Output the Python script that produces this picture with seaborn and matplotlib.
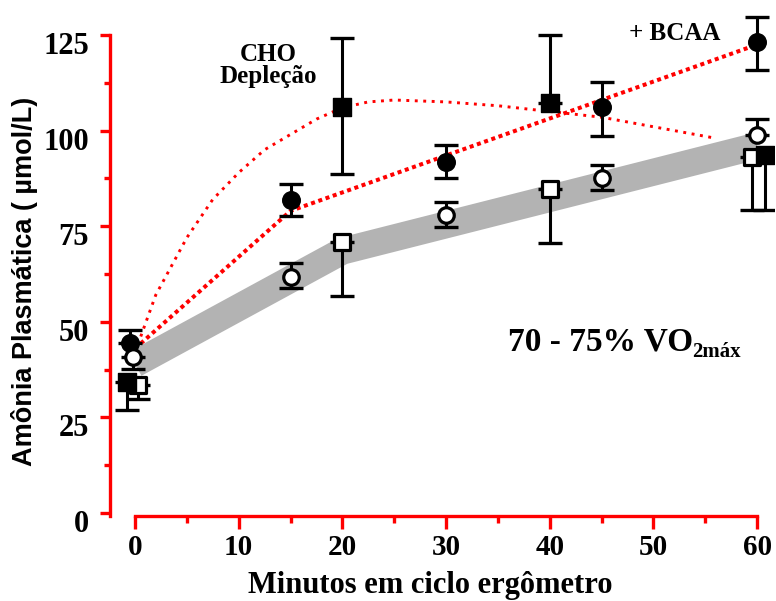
import numpy as np
import pandas as pd
import matplotlib
matplotlib.use("Agg")
import matplotlib.pyplot as plt
from matplotlib.ticker import MultipleLocator
from matplotlib.transforms import ScaledTranslation
import seaborn as sns

# ---- data -------------------------------------------------------------
# + BCAA (filled circles)
bcaa_x = [-0.5, 15, 30, 45, 60]
bcaa_y = [44.5, 81.9, 91.8, 106.2, 123.2]
bcaa_lo = [0.0, 4.2, 4.2, 7.6, 7.4]
bcaa_hi = [3.4, 4.1, 4.4, 6.5, 6.5]
bcaa_trend_x = [0, 15, 60]
bcaa_trend_y = [43, 79, 122.5]

# CHO depletion (filled squares)
cho_x = [-0.8, 20, 40, 60.8]
cho_y = [34.3, 106.2, 107.2, 93.6]
cho_lo = [7.4, 17.6, 0.0, 14.4]
cho_hi = [0.0, 18.0, 17.8, 0.0]
cho_curve_x = [0, 2, 5, 7.5, 10, 12.5, 15, 17.5, 20, 22.5, 25, 30, 35, 40, 45, 50, 56]
cho_curve_y = [42, 57, 72, 82, 89, 95, 99, 103, 106, 107.5, 108, 107.5, 106.5, 105, 103.5, 101, 98]

# control, open circles
ctl_c_x = [-0.2, 15, 30, 45, 60]
ctl_c_y = [40.8, 61.7, 77.9, 87.6, 98.8]
ctl_c_lo = [3.1, 2.9, 3.1, 3.1, 0.0]
ctl_c_hi = [0.0, 3.7, 3.5, 3.4, 4.2]

# control, open squares
ctl_s_x = [0.3, 20, 40, 59.5]
ctl_s_y = [33.5, 70.9, 84.7, 93.1]
ctl_s_lo = [3.7, 14.2, 14.1, 13.9]
ctl_s_hi = [0.0, 0.0, 0.0, 0.0]

# control trend (grey band)
band_x = [0, 20, 60]
band_y = [39, 68.5, 96]

x_ticks = [0, 10, 20, 30, 40, 50, 60]
y_ticks = [0, 25, 50, 75, 100, 125]

# ---- style ------------------------------------------------------------
sns.set_style("ticks")
plt.rcParams["font.family"] = ["Liberation Serif", "DejaVu Serif"]
plt.rcParams["font.weight"] = "bold"
plt.rcParams["text.color"] = "black"

RED = "#ff0000"
GREY = "#b3b3b3"

fig = plt.figure(figsize=(7.76, 6.01), dpi=100)
ax = fig.add_axes([110 / 776, 85 / 601, (774 - 110) / 776, (593 - 85) / 601])

# red dotted trend lines
sns.lineplot(x=cho_curve_x, y=cho_curve_y, ax=ax, color=RED, lw=2.1,
             linestyle=(0, (1, 1.9)), dash_capstyle="butt", zorder=1,
             sort=False, estimator=None)
sns.lineplot(x=bcaa_trend_x, y=bcaa_trend_y, ax=ax, color=RED, lw=2.9,
             linestyle=(0, (1, 0.9)), dash_capstyle="butt", zorder=1,
             sort=False, estimator=None)

# grey control band
sns.lineplot(x=band_x, y=band_y, ax=ax, color=GREY, lw=19.5,
             solid_capstyle="butt", solid_joinstyle="miter", zorder=2,
             sort=False, estimator=None)

# error bars
eb_kw = dict(fmt="none", ecolor="black", elinewidth=2.2, capsize=8.5,
             capthick=2.4, zorder=3)
ax.errorbar(bcaa_x, bcaa_y, yerr=[bcaa_lo, bcaa_hi], **eb_kw)
ax.errorbar(ctl_c_x, ctl_c_y, yerr=[ctl_c_lo, ctl_c_hi], **eb_kw)
ax.errorbar(ctl_s_x, ctl_s_y, yerr=[ctl_s_lo, ctl_s_hi], **eb_kw)
ax.errorbar(cho_x, cho_y, yerr=[cho_lo, cho_hi], **eb_kw)

# markers
sns.scatterplot(x=bcaa_x, y=bcaa_y, ax=ax, marker="o", s=160,
                color="black", edgecolor="black", zorder=4)
sns.scatterplot(x=ctl_c_x, y=ctl_c_y, ax=ax, marker="o", s=125,
                color="white", edgecolor="black", linewidth=2.3, zorder=5)
sns.scatterplot(x=ctl_s_x, y=ctl_s_y, ax=ax, marker="s", s=145,
                color="white", edgecolor="black", linewidth=2.3, zorder=5)
sns.scatterplot(x=cho_x, y=cho_y, ax=ax, marker="s", s=155,
                color="black", edgecolor="black", zorder=6)

# ---- axes -------------------------------------------------------------
ax.set_xlim(-2.41, 61.62)
ax.set_ylim(-0.78, 132.06)
ax.set_xticks(x_ticks)
ax.set_yticks(y_ticks)
ax.xaxis.set_minor_locator(MultipleLocator(5))
ax.yaxis.set_minor_locator(MultipleLocator(12.5))
ax.set_xticklabels([str(v) for v in x_ticks])
ax.set_yticklabels([str(v) for v in y_ticks])

for side in ("top", "right"):
    ax.spines[side].set_visible(False)
for side in ("left", "bottom"):
    ax.spines[side].set_color(RED)
    ax.spines[side].set_linewidth(2.4)
ax.spines["bottom"].set_bounds(0, 60)
ax.spines["left"].set_bounds(-0.78, 125)

ax.tick_params(axis="both", which="both", color=RED, labelcolor="black",
               direction="out", width=2.4)
ax.tick_params(axis="y", which="major", length=7, pad=8, labelsize=22)
ax.tick_params(axis="y", which="minor", length=4.5)
ax.tick_params(axis="x", which="major", length=9, pad=4, labelsize=21)
ax.tick_params(axis="x", which="minor", length=5)
shift = ScaledTranslation(0, -8 / 100, fig.dpi_scale_trans)
for lab in ax.get_yticklabels():
    lab.set_transform(lab.get_transform() + shift)
for lab in ax.get_xticklabels() + ax.get_yticklabels():
    lab.set_fontweight("bold")

ax.set_xlabel("")
ax.set_ylabel("")
fig.text(430 / 776, 8 / 601, "Minutos em ciclo ergômetro", ha="center",
         va="baseline", fontsize=22, fontweight="bold")
fig.text(25 / 776, 1 - 281 / 601, "Amônia Plasmática ( µmol/L)",
         rotation=90, ha="center", va="center", fontsize=19.5,
         fontweight="bold", family=["Liberation Sans", "DejaVu Sans"])

# annotations
ax.text(12.85, 117.0, "CHO\nDepleção", ha="center", va="center",
        fontsize=18, fontweight="bold", linespacing=0.95)
ax.text(52.0, 125.3, "+ BCAA", ha="center", va="center",
        fontsize=18, fontweight="bold")
t1 = ax.text(36.0, 42.6, "70 - 75% VO", ha="left", va="baseline",
             fontsize=24, fontweight="bold")
ax.annotate("2máx", xy=(1.0, 0.0), xycoords=t1, xytext=(-1, 0),
            textcoords="offset points", ha="left", va="baseline",
            fontsize=15, fontweight="bold")

fig.savefig("out.png", dpi=100, facecolor="white")
